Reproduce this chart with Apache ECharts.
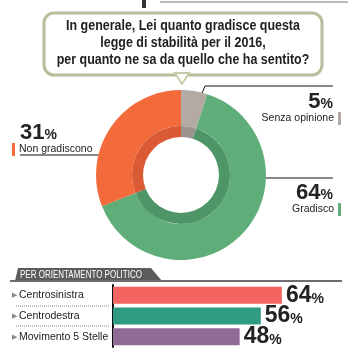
<!DOCTYPE html>
<html>
<head>
<meta charset="utf-8">
<script src="https://cdn.jsdelivr.net/npm/echarts@6/dist/echarts.min.js"></script>
<style>
  html, body { margin: 0; padding: 0; background: #fff; }
  #chart { width: 352px; height: 358px; }
</style>
</head>
<body>
<div id="chart"></div>
<script>
const FONT = '"Liberation Sans", Arial, sans-serif';

// donut: clockwise from 12 o'clock
const pieNames = ['Senza opinione', 'Gradisco', 'Non gradiscono'];
const pieValues = [5, 64, 31];
const pieColors = ['#b3aaa6', '#5fae7a', '#f36b3b'];
const pieInnerColors = ['#9d9490', '#4e9567', '#db5a36'];

// bars per political orientation
const barNames = ['Centrosinistra', 'Centrodestra', 'Movimento 5 Stelle'];
const barValues = [64, 56, 48];
const barColors = ['#f4655f', '#2f9b80', '#8f6b95'];

const questionLines = [
  'In generale, Lei quanto gradisce questa',
  'legge di stabilità per il 2016,',
  'per quanto ne sa da quello che ha sentito?',
];

// label placement for each slice (x, y, align, leader line)
const labelSpots = [
  { x: 341, y: 92, align: 'right', line: [[200, 98], [205, 86], [333, 86]] },
  { x: 341, y: 183, align: 'right', line: [[248, 178], [290, 178], [333, 178]] },
  { x: 12, y: 123, align: 'left', line: [[118, 155], [60, 155], [20, 155]] },
];

const chart = echarts.init(document.getElementById('chart'));

const pieLabel = (params) => {
  const i = params.dataIndex;
  if (labelSpots[i].align === 'left') {
    return `{s| }{v|${params.value}}{p|%}\n{m${i}| }{g| }{n|${params.name}}`;
  }
  return `{v|${params.value}}{p|%}{s| }\n{n|${params.name}}{g| }{m${i}| }`;
};

const markerRich = {};
pieColors.forEach((c, i) => {
  markerRich[`m${i}`] = { width: 3, height: 13, backgroundColor: c };
});

chart.setOption({
  backgroundColor: '#fff',
  animation: false,
  graphic: [
    { type: 'rect', shape: { x: 142, y: 0, width: 4, height: 8 }, style: { fill: '#333' } },
    { type: 'line', shape: { x1: 160, y1: 2, x2: 348, y2: 2 }, style: { stroke: '#bbb', lineWidth: 2 } },
    {
      type: 'rect', z: -1,
      shape: { x: 44, y: 13, width: 278, height: 62, r: 10 },
      style: { fill: '#fff', stroke: '#bbbc9c', lineWidth: 3 },
    },
    {
      type: 'polygon', z: -1,
      shape: { points: [[175, 73], [189, 73], [182, 84]] },
      style: { fill: '#fff', stroke: '#c9caa8', lineWidth: 2 },
    },
    {
      type: 'text', x: 183, y: 17, scaleX: 0.83,
      style: {
        text: questionLines.join('\n'),
        align: 'center',
        verticalAlign: 'top',
        font: `bold 15px ${FONT}`,
        lineHeight: 17,
        fill: '#222',
      },
    },
    {
      type: 'polygon',
      shape: { points: [[15, 281], [18, 268], [151, 268], [162, 281]] },
      style: { fill: '#5c5c5c' },
    },
    {
      type: 'text', x: 20, y: 270, scaleX: 0.8,
      style: { text: 'PER ORIENTAMENTO POLITICO', fill: '#fff', font: `10px ${FONT}`, verticalAlign: 'top' },
    },
    { type: 'line', shape: { x1: 10, y1: 281, x2: 342, y2: 281 }, style: { stroke: '#6e6e6e', lineWidth: 2 } },
    { type: 'line', shape: { x1: 16, y1: 306, x2: 110, y2: 306 }, style: { stroke: '#888', lineWidth: 1, lineDash: [1, 1] } },
    { type: 'line', shape: { x1: 16, y1: 326, x2: 110, y2: 326 }, style: { stroke: '#888', lineWidth: 1, lineDash: [1, 1] } },
  ],
  grid: { left: 113, right: 49, top: 285, height: 62 },
  xAxis: { type: 'value', min: 0, max: 72, show: false },
  yAxis: {
    type: 'category',
    inverse: true,
    data: barNames,
    axisLine: { show: true, lineStyle: { color: '#111', width: 2 } },
    axisTick: { show: false },
    axisLabel: {
      align: 'left',
      margin: 101,
      formatter: (v) => `{t|▶}{n|${v}}`,
      rich: {
        t: { fontSize: 7, color: '#8a8a8a', padding: [0, 2, 0, 0] },
        n: { fontFamily: FONT, fontSize: 10.5, color: '#222' },
      },
    },
  },
  series: [
    {
      type: 'pie',
      center: [181, 175],
      radius: [49, 85],
      startAngle: 90,
      clockwise: true,
      silent: true,
      data: pieNames.map((name, i) => ({
        name,
        value: pieValues[i],
        itemStyle: { color: pieColors[i] },
      })),
      label: {
        show: true,
        overflow: 'none',
        formatter: pieLabel,
        fontFamily: FONT,
        rich: Object.assign({
          v: { fontFamily: FONT, fontSize: 22, fontWeight: 'bold', color: '#222', lineHeight: 19 },
          p: { fontFamily: FONT, fontSize: 14, fontWeight: 'bold', color: '#222', lineHeight: 19, verticalAlign: 'bottom' },
          n: { fontFamily: FONT, fontSize: 10.5, color: '#222', lineHeight: 15 },
          s: { width: 8 },
          g: { width: 4 },
        }, markerRich),
      },
      labelLine: { show: true, lineStyle: { color: '#111', width: 1 } },
      labelLayout: (params) => {
        const spot = labelSpots[params.dataIndex];
        return {
          x: spot.x,
          y: spot.y,
          align: spot.align,
          verticalAlign: 'top',
          labelLinePoints: spot.line,
        };
      },
    },
    {
      type: 'pie',
      center: [181, 175],
      radius: [38, 49],
      startAngle: 90,
      clockwise: true,
      silent: true,
      label: { show: false },
      labelLine: { show: false },
      data: pieNames.map((name, i) => ({
        name,
        value: pieValues[i],
        itemStyle: { color: pieInnerColors[i] },
      })),
    },
    {
      type: 'bar',
      barWidth: 17,
      silent: true,
      data: barValues.map((v, i) => ({ value: v, itemStyle: { color: barColors[i] } })),
      label: {
        show: true,
        position: 'right',
        distance: 4,
        formatter: '{v|{c}}{p|%}',
        rich: {
          v: { fontFamily: FONT, fontSize: 23, fontWeight: 'bold', color: '#222' },
          p: { fontFamily: FONT, fontSize: 14, fontWeight: 'bold', color: '#222', verticalAlign: 'bottom', padding: [0, 0, 1, 0] },
        },
      },
    },
  ],
});

window.addEventListener('resize', () => chart.resize());
</script>
</body>
</html>
